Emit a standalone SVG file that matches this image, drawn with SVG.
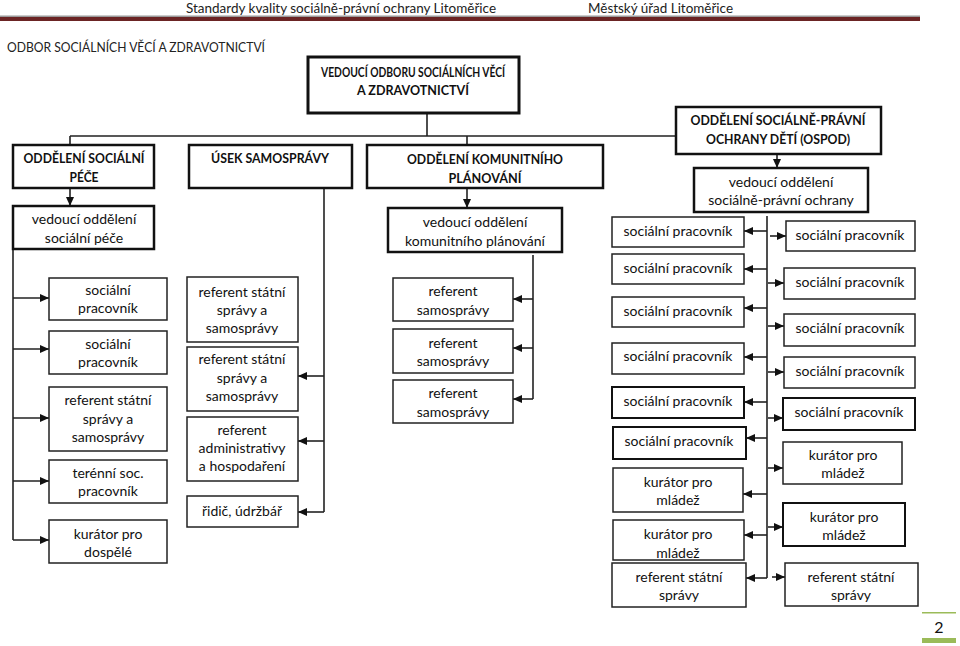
<svg xmlns="http://www.w3.org/2000/svg" width="960" height="646" viewBox="0 0 960 646">
<style>
.t{font-family:Lato,"Liberation Sans",sans-serif;font-size:14px;fill:#111;text-anchor:middle}
.b{font-weight:bold;font-size:13.5px}
.hd{font-family:Lato,"Liberation Sans",sans-serif;font-size:13px;fill:#222}
.n{fill:#fff;stroke:#222;stroke-width:1.5}
.k{fill:#fff;stroke:#111;stroke-width:2.5}
.c{fill:none;stroke:#222;stroke-width:1.6}
.a{marker-end:url(#ah)}
</style>
<defs>
<marker id="ah" markerUnits="userSpaceOnUse" markerWidth="9" markerHeight="8" refX="9" refY="4" orient="auto">
<path d="M0,0 L9,4 L0,8 z" fill="#111"/>
</marker>
<clipPath id="clipL8"><rect x="613" y="520" width="131" height="40"/></clipPath>
</defs>
<rect width="960" height="646" fill="#fff"/>
<g id="header">
<text class="hd" x="186" y="13" textLength="310" lengthAdjust="spacingAndGlyphs">Standardy kvality sociálně-právní ochrany Litoměřice</text>
<text class="hd" x="588" y="13" textLength="145" lengthAdjust="spacingAndGlyphs">Městský úřad Litoměřice</text>
<rect x="0" y="15.5" width="920" height="1.5" fill="#9a9a9a"/>
<rect x="0" y="17" width="920" height="4" fill="#6b2424"/>
<text class="hd" x="7" y="52" style="font-size:14px" textLength="258" lengthAdjust="spacingAndGlyphs">ODBOR SOCIÁLNÍCH VĚCÍ A ZDRAVOTNICTVÍ</text>
</g>
<g id="connectors">
<path class="c" d="M427,113 V136 M70,136 H676 M70,136 V145 M467,136 V145"/>
<path class="c a" d="M70,188 V206"/>
<path class="c a" d="M467,188 V208"/>
<path class="c a" d="M777,154 V168"/>
<path class="c" d="M13,249 V540"/>
<path class="c a" d="M13,298 H49"/>
<path class="c a" d="M13,349 H49"/>
<path class="c a" d="M13,418 H49"/>
<path class="c a" d="M13,481 H49"/>
<path class="c a" d="M13,540 H49"/>
<path class="c" d="M324,188 V512"/>
<path class="c a" d="M324,376 H298"/>
<path class="c a" d="M324,441 H298"/>
<path class="c a" d="M324,512 H298"/>
<path class="c" d="M533,255 V399"/>
<path class="c a" d="M533,299 H513"/>
<path class="c a" d="M533,348 H513"/>
<path class="c a" d="M533,399 H513"/>
<path class="c" d="M767,216 V578"/>
<path class="c a" d="M767,231 H744"/>
<path class="c a" d="M767,269 H744"/>
<path class="c a" d="M767,308 H744"/>
<path class="c a" d="M767,357 H744"/>
<path class="c a" d="M767,402 H744"/>
<path class="c a" d="M767,438 H746"/>
<path class="c a" d="M767,494 H743"/>
<path class="c a" d="M767,535 H744"/>
<path class="c a" d="M767,578 H746"/>
<path class="c a" d="M770,236 H786"/>
<path class="c a" d="M768,283 H784"/>
<path class="c a" d="M768,326 H784"/>
<path class="c a" d="M768,372 H784"/>
<path class="c a" d="M768,418 H783"/>
<path class="c a" d="M768,468 H783"/>
<path class="c a" d="M768,527 H783"/>
<path class="c a" d="M772,577 H785"/>
</g>
<g id="director"><rect x="308" y="57" width="211" height="56" fill="#fff" stroke="#111" stroke-width="3"/>
<text class="t b" x="413" y="77" textLength="184" lengthAdjust="spacingAndGlyphs">VEDOUCÍ ODBORU SOCIÁLNÍCH VĚCÍ</text><text class="t b" x="413" y="95" textLength="112" lengthAdjust="spacingAndGlyphs">A ZDRAVOTNICTVÍ</text></g>
<g id="odd-pece"><rect class="k" x="13" y="145" width="141" height="43"/>
<text class="t b" x="84" y="163" textLength="121" lengthAdjust="spacingAndGlyphs">ODDĚLENÍ SOCIÁLNÍ</text><text class="t b" x="84" y="182" textLength="29" lengthAdjust="spacingAndGlyphs">PÉČE</text></g>
<g id="usek"><rect class="k" x="189" y="145" width="163" height="43"/>
<text class="t b" x="270" y="163" textLength="118" lengthAdjust="spacingAndGlyphs">ÚSEK SAMOSPRÁVY</text></g>
<g id="odd-kom"><rect class="k" x="367" y="145" width="236" height="43"/>
<text class="t b" x="485" y="164" textLength="156" lengthAdjust="spacingAndGlyphs">ODDĚLENÍ KOMUNITNÍHO</text><text class="t b" x="485" y="183" textLength="73" lengthAdjust="spacingAndGlyphs">PLÁNOVÁNÍ</text></g>
<g id="ospod"><rect class="k" x="676" y="107" width="205" height="47"/>
<text class="t b" x="778" y="125" textLength="175" lengthAdjust="spacingAndGlyphs">ODDĚLENÍ SOCIÁLNĚ-PRÁVNÍ</text><text class="t b" x="778" y="144" textLength="144" lengthAdjust="spacingAndGlyphs">OCHRANY DĚTÍ (OSPOD)</text></g>
<g id="ved-pece"><rect class="k" x="13" y="206" width="141" height="43"/>
<text class="t" x="84" y="224">vedoucí oddělení</text><text class="t" x="84" y="243">sociální péče</text></g>
<g id="ved-kom"><rect class="k" x="388" y="208" width="174" height="44"/>
<text class="t" x="475" y="227">vedoucí oddělení</text><text class="t" x="475" y="246">komunitního plánování</text></g>
<g id="ved-ospod"><rect class="k" x="694" y="168" width="174" height="44"/>
<text class="t" x="781" y="187">vedoucí oddělení</text><text class="t" x="781" y="205">sociálně-právní ochrany</text></g>
<g id="p1"><rect class="n" x="49" y="278" width="118" height="42"/><text class="t" x="108" y="295">sociální</text><text class="t" x="108" y="313">pracovník</text></g>
<g id="p2"><rect class="n" x="49" y="331" width="118" height="43"/><text class="t" x="108" y="349">sociální</text><text class="t" x="108" y="367">pracovník</text></g>
<g id="p3"><rect class="n" x="49" y="387" width="118" height="64"/><text class="t" x="108" y="405">referent státní</text><text class="t" x="108" y="424">správy a</text><text class="t" x="108" y="442">samosprávy</text></g>
<g id="p4"><rect class="n" x="49" y="460" width="118" height="43"/><text class="t" x="108" y="478">terénní soc.</text><text class="t" x="108" y="496">pracovník</text></g>
<g id="p5"><rect class="n" x="49" y="520" width="118" height="43"/><text class="t" x="108" y="539">kurátor pro</text><text class="t" x="108" y="557">dospělé</text></g>
<g id="s1"><rect class="n" x="187" y="277" width="111" height="65"/><text class="t" x="242" y="297">referent státní</text><text class="t" x="242" y="315">správy a</text><text class="t" x="242" y="333">samosprávy</text></g>
<g id="s2"><rect class="n" x="187" y="347" width="111" height="64"/><text class="t" x="242" y="364">referent státní</text><text class="t" x="242" y="383">správy a</text><text class="t" x="242" y="401">samosprávy</text></g>
<g id="s3"><rect class="n" x="187" y="417" width="111" height="64"/><text class="t" x="242" y="435">referent</text><text class="t" x="242" y="453">administrativy</text><text class="t" x="242" y="471">a hospodaření</text></g>
<g id="s4"><rect class="n" x="187" y="496" width="111" height="31"/><text class="t" x="242" y="516">řidič, údržbář</text></g>
<g id="k1"><rect class="n" x="393" y="278" width="120" height="43"/><text class="t" x="453" y="296">referent</text><text class="t" x="453" y="315">samosprávy</text></g>
<g id="k2"><rect class="n" x="393" y="329" width="120" height="44"/><text class="t" x="453" y="348">referent</text><text class="t" x="453" y="366">samosprávy</text></g>
<g id="k3"><rect class="n" x="393" y="380" width="120" height="43"/><text class="t" x="453" y="398">referent</text><text class="t" x="453" y="417">samosprávy</text></g>
<g id="l1"><rect class="n" x="612" y="217" width="132" height="30"/><text class="t" x="678" y="236">sociální pracovník</text></g>
<g id="l2"><rect class="n" x="612" y="254" width="132" height="30"/><text class="t" x="678" y="273">sociální pracovník</text></g>
<g id="l3"><rect class="n" x="612" y="297" width="132" height="30"/><text class="t" x="678" y="316">sociální pracovník</text></g>
<g id="l4"><rect class="n" x="612" y="343" width="132" height="31"/><text class="t" x="678" y="361">sociální pracovník</text></g>
<g id="l5"><rect class="k" x="612" y="387" width="132" height="31" style="stroke-width:2"/><text class="t" x="678" y="406">sociální pracovník</text></g>
<g id="l6"><rect class="k" x="613" y="427" width="133" height="32" style="stroke-width:2"/><text class="t" x="679" y="446">sociální pracovník</text></g>
<g id="l7"><rect class="n" x="613" y="468" width="130" height="44"/><text class="t" x="678" y="487">kurátor pro</text><text class="t" x="678" y="505">mládež</text></g>
<g id="l8"><rect class="n" x="613" y="520" width="131" height="40"/><g clip-path="url(#clipL8)"><text class="t" x="678" y="539">kurátor pro</text><text class="t" x="678" y="558">mládež</text></g></g>
<g id="l9"><rect class="n" x="612" y="563" width="134" height="44"/><text class="t" x="679" y="582">referent státní</text><text class="t" x="679" y="600">správy</text></g>
<g id="r1"><rect class="n" x="786" y="221" width="129" height="30"/><text class="t" x="850" y="240">sociální pracovník</text></g>
<g id="r2"><rect class="n" x="784" y="268" width="131" height="31"/><text class="t" x="850" y="287">sociální pracovník</text></g>
<g id="r3"><rect class="n" x="784" y="314" width="131" height="32"/><text class="t" x="850" y="333">sociální pracovník</text></g>
<g id="r4"><rect class="n" x="784" y="357" width="131" height="31"/><text class="t" x="850" y="376">sociální pracovník</text></g>
<g id="r5"><rect class="k" x="783" y="398" width="132" height="32" style="stroke-width:2"/><text class="t" x="849" y="417">sociální pracovník</text></g>
<g id="r6"><rect class="n" x="783" y="442" width="119" height="42"/><text class="t" x="843" y="460">kurátor pro</text><text class="t" x="843" y="478">mládež</text></g>
<g id="r7"><rect class="k" x="783" y="503" width="122" height="43" style="stroke-width:2"/><text class="t" x="844" y="522">kurátor pro</text><text class="t" x="844" y="540">mládež</text></g>
<g id="r8"><rect class="n" x="785" y="563" width="133" height="43"/><text class="t" x="851" y="582">referent státní</text><text class="t" x="851" y="600">správy</text></g>
<g id="pagenum">
<rect x="922" y="612" width="34" height="1.5" fill="#9bbb59"/>
<text x="939" y="633" style="font-family:Lato,'Liberation Sans',sans-serif;font-size:16px;fill:#111;text-anchor:middle">2</text>
<rect x="922" y="638" width="34" height="5" fill="#9bbb59"/>
</g>
</svg>
